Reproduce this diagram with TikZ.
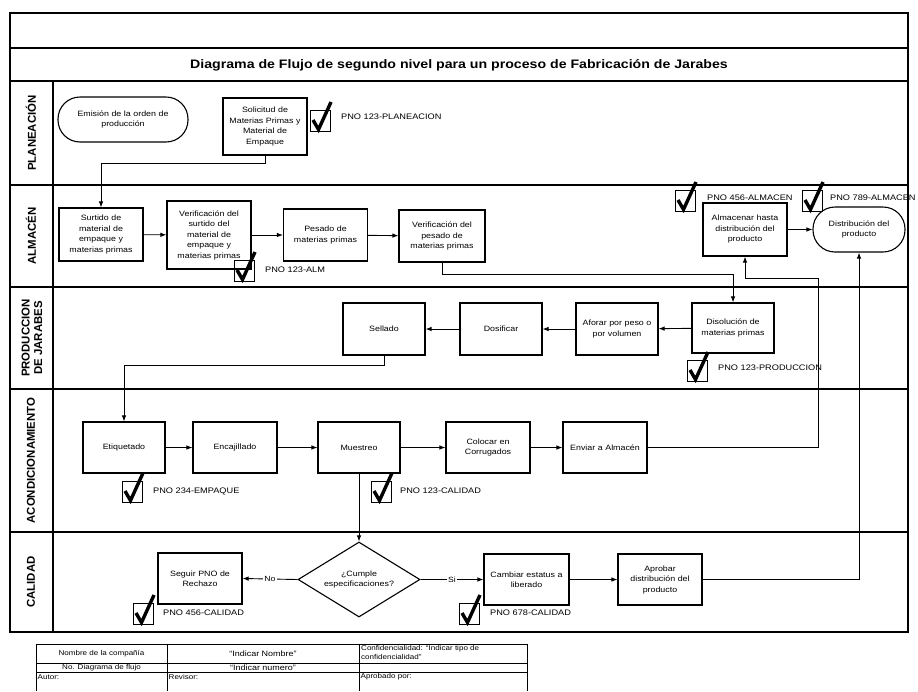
\documentclass[tikz,border=0pt]{standalone}
\usepackage{fontspec}
\setmainfont{Liberation Sans}[FakeStretch=1.15]
\newfontfamily\lanefont{Liberation Sans}
\usetikzlibrary{shapes.geometric,arrows.meta}

\begin{document}
\begin{tikzpicture}[x=1pt,y=-1pt,
  every node/.style={inner sep=0pt},
  frame/.style={line width=1.4pt},
  proc/.style={draw, line width=1.1pt, rectangle, minimum width=84pt,
    minimum height=52pt, text width=80pt, align=center,
    font=\fontsize{7.7}{10.5}\selectfont},
  term/.style={draw, line width=1.1pt, rounded corners=22pt,
    minimum height=45pt, align=center, font=\fontsize{7.7}{10.5}\selectfont},
  decision/.style={draw, diamond, aspect=1.63, line width=1.1pt,
    minimum width=122pt, minimum height=75pt, align=center,
    font=\fontsize{7.7}{10.5}\selectfont},
  conn/.style={line width=0.9pt, -{Latex[length=6pt,width=4.5pt]}},
  branch/.style={fill=white, inner sep=1.5pt, font=\fontsize{7.5}{8}\selectfont},
  pno/.style={anchor=west, font=\fontsize{8}{9}\selectfont},
  lanelabel/.style={rotate=90, align=center,
    font=\lanefont\bfseries\fontsize{11.4}{12.5}\selectfont},
  title/.style={font=\bfseries\fontsize{12.3}{14}\selectfont},
  cell/.style={font=\fontsize{7}{8.5}\selectfont},
  chk/.pic={\draw[line width=0.9pt] (0,0) rectangle (20,21);
    \draw[line width=3.4pt, line join=miter, miter limit=6]
      (3,10) -- (8.5,19.5) -- (21,-8);}
]
\useasboundingbox (0,0) rectangle (918,691);

% ---------- frame, title band and swimlanes ----------
\draw[frame] (10,13) rectangle (908,632);
\draw[frame] (10,48) -- (908,48);
\draw[frame] (10,81) -- (908,81);
\draw[frame] (53,81) -- (53,632);
\foreach \y in {185,287,389,532} \draw[frame] (10,\y) -- (908,\y);

\node[title] (titulo) at (459,65)
  {Diagrama de Flujo de segundo nivel para un proceso de Fabricación de Jarabes};

\node[lanelabel] (lplan) at (31,133) {PLANEACIÓN};
\node[lanelabel] (lalm)  at (31,236) {ALMACÉN};
\node[lanelabel] (lprod) at (32,338) {PRODUCCION\\DE JARABES};
\node[lanelabel] (lacon) at (31,460.5) {ACONDICIONAMIENTO};
\node[lanelabel] (lcal)  at (31,582) {CALIDAD};

% ---------- Planeación ----------
\node[term, minimum width=130pt, text width=110pt] (emision) at (123,119.5)
  {Emisión de la orden de\\producción};
\node[proc, minimum height=57pt] (solicitud) at (265,126.5)
  {Solicitud de\\Materias Primas y\\Material de\\Empaque};
\pic at (310,110) {chk};
\node[pno] (pnoplan) at (341,117) {PNO 123-PLANEACION};

% ---------- Almacén ----------
\node[proc, minimum height=53pt] (surtido) at (101,234.5)
  {Surtido de\\material de\\empaque y\\materias primas};
\node[proc, minimum height=68pt] (verifsurt) at (209,235)
  {Verificación del\\surtido del\\material de\\empaque y\\materias primas};
\node[proc] (pesado) at (325.5,235) {Pesado de\\materias primas};
\node[proc, minimum width=86pt] (verifpes) at (442,236)
  {Verificación del\\pesado de\\materias primas};
\pic at (234,260) {chk};
\node[pno] (pnoalm) at (265,270) {PNO 123-ALM};

\node[proc, minimum height=53pt] (almacenar) at (745,229.5)
  {Almacenar hasta\\distribución del\\producto};
\node[term, minimum width=92pt, text width=80pt] (distrib) at (859,229.5)
  {Distribución del\\producto};
\pic at (675,190) {chk};
\node[pno] (pnoalm2) at (707,198) {PNO 456-ALMACEN};
\pic at (802,190) {chk};
\node[pno] (pnoalm3) at (830,198) {PNO 789-ALMACEN};

% ---------- Producción de jarabes ----------
\node[proc, minimum width=82pt] (sellado) at (384,329) {Sellado};
\node[proc, minimum width=82pt] (dosificar) at (501,329) {Dosificar};
\node[proc, minimum width=82pt] (aforar) at (617,329) {Aforar por peso o\\por volumen};
\node[proc, minimum width=82pt, minimum height=50pt] (disolucion) at (733,328)
  {Disolución de\\materias primas};
\pic at (687,360) {chk};
\node[pno] (pnoprod) at (718,368) {PNO 123-PRODUCCION};

% ---------- Acondicionamiento ----------
\node[proc, minimum width=82pt, minimum height=51pt] (etiquetado) at (124,447.5) {Etiquetado};
\node[proc, minimum height=51pt] (encajillado) at (235,447.5) {Encajillado};
\node[proc, minimum width=82pt, minimum height=51pt] (muestreo) at (359,447.5) {Muestreo};
\node[proc, minimum height=51pt] (colocar) at (488,447.5) {Colocar en\\Corrugados};
\node[proc, minimum height=51pt] (enviar) at (605,447.5) {Enviar a Almacén};
\pic at (122,481) {chk};
\node[pno] (pnoemp) at (153,491) {PNO 234-EMPAQUE};
\pic at (371,481) {chk};
\node[pno] (pnocal) at (400,491) {PNO 123-CALIDAD};

% ---------- Calidad ----------
\node[proc, minimum height=51pt] (seguir) at (200,578.5) {Seguir PNO de\\Rechazo};
\node[decision] (cumple) at (359,579.5) {¿Cumple\\especificaciones?};
\node[proc, minimum width=85pt, minimum height=51pt] (cambiar) at (526.5,579.5)
  {Cambiar estatus a\\liberado};
\node[proc, minimum height=51pt] (aprobar) at (660,579.5)
  {Aprobar\\distribución del\\producto};
\pic at (133,603) {chk};
\node[pno] (pnocal2) at (163,613) {PNO 456-CALIDAD};
\pic at (459,603) {chk};
\node[pno] (pnocal3) at (490,613) {PNO 678-CALIDAD};

% ---------- connectors ----------
\coordinate (retorno) at (818,278);
\draw[conn] (solicitud.south) -- ++(0,8) -| (surtido.north);
\draw[conn] (surtido) -- (verifsurt);
\draw[conn] (verifsurt) -- (pesado);
\draw[conn] (pesado) -- (verifpes);
\draw[conn] (verifpes.south) -- ++(0,12) -| (disolucion.north);
\draw[conn] (disolucion) -- (aforar);
\draw[conn] (aforar) -- (dosificar);
\draw[conn] (dosificar) -- (sellado);
\draw[conn] (sellado.south) -- ++(0,10) -| (etiquetado.north);
\draw[conn] (etiquetado) -- (encajillado);
\draw[conn] (encajillado) -- (muestreo);
\draw[conn] (muestreo) -- (colocar);
\draw[conn] (colocar) -- (enviar);
\draw[conn] (enviar.east) -| (retorno) -| (almacenar.south);
\draw[conn] (almacenar) -- (distrib);
\draw[conn] (muestreo.south) -- (cumple.north);
\draw[conn] (cumple.west) -- node[branch] (no) {No} (seguir.east);
\draw[conn] (cumple.east) -- node[branch] (si) {Si} (cambiar.west);
\draw[conn] (cambiar) -- (aprobar);
\draw[conn] (aprobar.east) -| (distrib.south);

% ---------- document control table ----------
\draw[line width=0.8pt] (36,644) -- (527,644) (36,663) -- (527,663) (36,672) -- (527,672);
\foreach \x in {36,167,359,527} \draw[line width=0.8pt] (\x,644) -- (\x,691);
\node[cell] (empresa) at (101.5,653.5) {Nombre de la compañía};
\node[cell, font=\fontsize{7.8}{9}\selectfont] (nombre) at (263,653.5) {“Indicar Nombre”};
\node[cell, anchor=north west, align=left] (confid) at (361,645.5)
  {Confidencialidad: “Indicar tipo de\\confidencialidad”};
\node[cell] (nodiag) at (101.5,667.5) {No. Diagrama de flujo};
\node[cell, font=\fontsize{7.8}{9}\selectfont] (numero) at (263,667.5) {“Indicar numero”};
\node[cell, anchor=west] (autor) at (37.5,677) {Autor:};
\node[cell, anchor=west] (revisor) at (168.5,677) {Revisor:};
\node[cell, anchor=west] (aprobado) at (360.5,677) {Aprobado por:};
\end{tikzpicture}
\end{document}
